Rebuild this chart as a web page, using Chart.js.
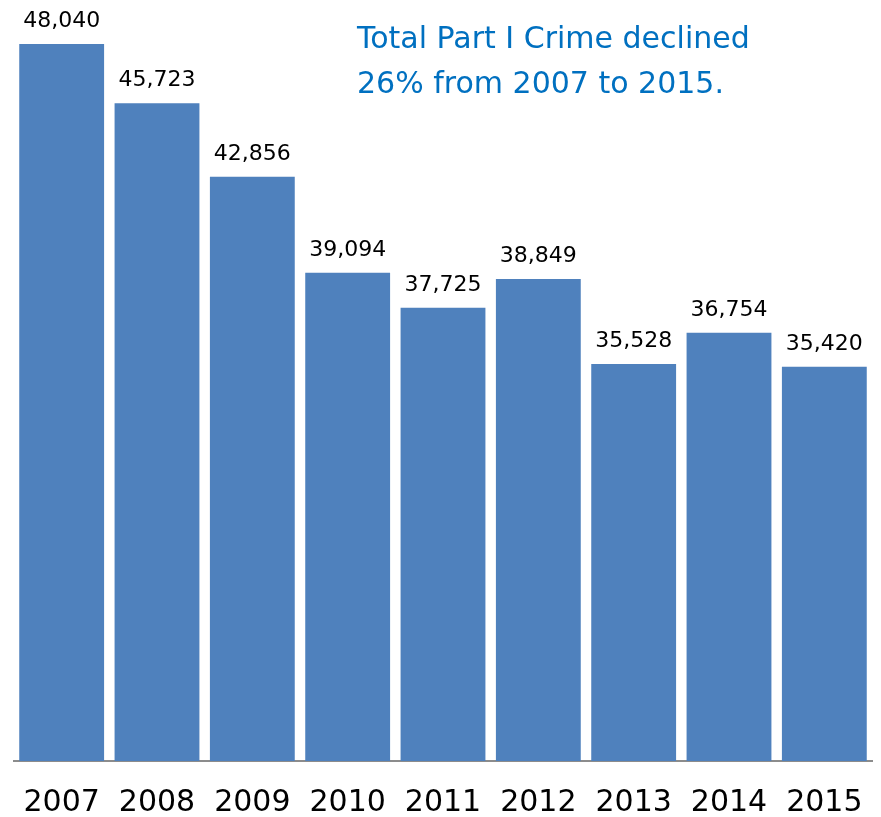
<!DOCTYPE html>
<html>
<head>
<meta charset="utf-8">
<script src="https://cdn.jsdelivr.net/npm/chart.js@4/dist/chart.umd.min.js"></script>
<style>
  html, body { margin: 0; padding: 0; background: #ffffff; overflow: hidden; }
  #frame { position: relative; width: 881px; height: 817px; overflow: hidden; }
  #c { position: absolute; left: 0; top: -6px; }
</style>
</head>
<body>
<div id="frame"><canvas id="c" width="881" height="827"></canvas></div>
<script>
const categories = ["2007", "2008", "2009", "2010", "2011", "2012", "2013", "2014", "2015"];
const crimeTotals = [48040, 45723, 42856, 39094, 37725, 38849, 35528, 36754, 35420];
const titleLines = ["Total Part I Crime declined", "26% from 2007 to 2015."];

const valueLabels = {
  id: 'valueLabels',
  afterDatasetsDraw(chart) {
    const ctx = chart.ctx;
    const meta = chart.getDatasetMeta(0);
    ctx.save();
    ctx.fillStyle = '#000000';
    ctx.font = '22px "DejaVu Sans"';
    ctx.textAlign = 'center';
    ctx.textBaseline = 'alphabetic';
    meta.data.forEach((bar, i) => {
      ctx.fillText(crimeTotals[i].toLocaleString('en-US'), bar.x, bar.y - 17);
    });
    ctx.restore();
  }
};

const titleText = {
  id: 'titleText',
  afterDraw(chart) {
    const ctx = chart.ctx;
    ctx.save();
    ctx.fillStyle = '#0070C0';
    ctx.textAlign = 'left';
    ctx.textBaseline = 'alphabetic';
    ctx.font = '30px "DejaVu Sans"';
    ctx.fillText(titleLines[0], 357, 54);
    ctx.fillText(titleLines[1], 357, 99);
    ctx.restore();
  }
};

new Chart(document.getElementById('c'), {
  type: 'bar',
  data: {
    labels: categories,
    datasets: [{
      data: crimeTotals,
      backgroundColor: '#4F81BD',
      borderWidth: 0,
      barPercentage: 0.89,
      categoryPercentage: 1.0
    }]
  },
  options: {
    responsive: false,
    animation: false,
    layout: { padding: { left: 14, right: 9, top: 0, bottom: 0 } },
    plugins: { legend: { display: false }, tooltip: { enabled: false }, title: { display: false } },
    scales: {
      x: {
        grid: { display: false, drawTicks: true, tickLength: 24 },
        border: { display: true, color: '#8C8C8C', width: 2 },
        ticks: { color: '#000000', font: { family: 'DejaVu Sans', size: 30, lineHeight: 1.2 }, padding: 0, maxRotation: 0, autoSkip: false }
      },
      y: {
        display: false,
        min: 20000,
        max: 50000
      }
    }
  },
  plugins: [valueLabels, titleText]
});
</script>
</body>
</html>
